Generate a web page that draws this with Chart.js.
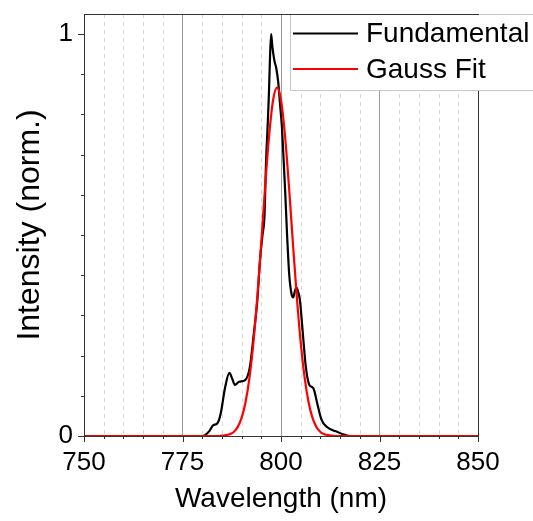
<!DOCTYPE html>
<html>
<head>
<meta charset="utf-8">
<script src="https://cdn.jsdelivr.net/npm/chart.js@4.4.1/dist/chart.umd.min.js"></script>
<style>
    html, body { margin: 0; padding: 0; background: #fff; }
</style>
</head>
<body>
<canvas id="spectrum" width="533" height="521"></canvas>
<script>
// Measured spectrum (normalized)
const fundWavelength = [750, 780, 780.7, 781.8, 782.8, 783.8, 784.7, 785.8, 786.9, 787.6, 788.3, 789.4, 790.9,
    792.1, 793.1, 794.0, 794.7, 795.3, 795.8, 796.2, 796.6, 796.95, 797.2, 797.5, 797.8, 798.3, 798.8, 799.3,
    799.8, 800.2, 800.7, 801.1, 801.5, 802.1, 802.7, 803.1, 803.5, 803.9, 804.3, 804.8, 805.5, 806.3, 807.2,
    808.2, 809.2, 810.3, 811.6, 813.0, 814.1, 815.5, 817.5, 850];
const fundIntensity = [0, 0, 0.002, 0.012, 0.027, 0.031, 0.056, 0.12, 0.157, 0.143, 0.127, 0.135, 0.139,
    0.172, 0.255, 0.338, 0.44, 0.50, 0.546, 0.68, 0.77, 0.856, 0.94, 1.0, 0.97, 0.935, 0.915, 0.88,
    0.82, 0.774, 0.68, 0.60, 0.51, 0.40, 0.352, 0.345, 0.36, 0.37, 0.36, 0.338, 0.26, 0.172, 0.127,
    0.119, 0.081, 0.04, 0.023, 0.015, 0.011, 0.005, 0, 0];

// Gauss fit curve
const fitWavelength = [750, 784, 785, 786, 787, 788, 789, 790, 791, 792, 793, 794, 795, 796, 797, 798, 799,
    800, 801, 802, 803, 804, 805, 806, 807, 808, 809, 810, 811, 812, 813, 814, 850];
const fitIntensity = [0, 0, 0.001, 0.002, 0.0045, 0.010, 0.022, 0.045, 0.084, 0.145, 0.233, 0.348, 0.483,
    0.624, 0.749, 0.836, 0.867, 0.836, 0.749, 0.624, 0.483, 0.348, 0.233, 0.145, 0.084, 0.045, 0.022,
    0.010, 0.0045, 0.002, 0.001, 0, 0];

const seriesNames = ['Fundamental', 'Gauss Fit'];
const seriesColors = ['#000000', '#ff0000'];
const xTickLabels = [750, 775, 800, 825, 850];
const yTickLabels = [0, 1];

const FONT = '"Liberation Sans", Arial, sans-serif';

function toPoints(xs, ys) {
    return xs.map((x, i) => ({ x: x, y: ys[i] }));
}

function isMajorX(v) {
    return xTickLabels.some(t => Math.abs(t - v) < 1e-6);
}
function isMajorY(v) {
    return yTickLabels.some(t => Math.abs(t - v) < 1e-6);
}

// dashed minor grid, tick marks, frame
const framePlugin = {
    id: 'frame',
    beforeDatasetsDraw(chart) {
        const { ctx, chartArea: a, scales: { x } } = chart;
        ctx.save();
        ctx.strokeStyle = '#d8d8d8';
        ctx.lineWidth = 1;
        ctx.setLineDash([4, 4]);
        x.ticks.forEach(t => {
            if (isMajorX(t.value)) return;
            const px = Math.round(x.getPixelForValue(t.value)) + 0.5;
            ctx.beginPath();
            ctx.moveTo(px, a.top);
            ctx.lineTo(px, a.bottom);
            ctx.stroke();
        });
        ctx.restore();
    },
    afterDatasetsDraw(chart) {
        const { ctx, chartArea: a, scales: { x, y } } = chart;
        ctx.save();
        ctx.strokeStyle = '#333333';
        ctx.lineWidth = 1;
        ctx.beginPath();
        x.ticks.forEach(t => {
            const px = Math.round(x.getPixelForValue(t.value)) + 0.5;
            ctx.moveTo(px, a.bottom);
            ctx.lineTo(px, a.bottom + (isMajorX(t.value) ? 6 : 3));
        });
        y.ticks.forEach(t => {
            const py = Math.round(y.getPixelForValue(t.value)) + 0.5;
            ctx.moveTo(a.left, py);
            ctx.lineTo(a.left - (isMajorY(t.value) ? 6 : 3), py);
        });
        ctx.stroke();
        ctx.strokeRect(Math.round(a.left) + 0.5, Math.round(a.top) + 0.5,
            Math.round(a.right - a.left), Math.round(a.bottom - a.top));
        ctx.restore();
    }
};

// legend box in the top right corner
const legendPlugin = {
    id: 'boxLegend',
    afterDraw(chart) {
        const { ctx, chartArea: a } = chart;
        const left = a.left + 206, top = a.top, rowH = 35.5;
        ctx.save();
        ctx.fillStyle = '#ffffff';
        ctx.fillRect(left, top, 260, 76);
        ctx.strokeStyle = '#c8c8c8';
        ctx.lineWidth = 1;
        ctx.strokeRect(left + 0.5, top + 0.5, 260, 76);
        // top frame line stays dark over the box
        ctx.strokeStyle = '#333333';
        ctx.beginPath();
        ctx.moveTo(left, Math.round(a.top) + 0.5);
        ctx.lineTo(Math.round(a.right) + 1, Math.round(a.top) + 0.5);
        ctx.stroke();
        ctx.font = '28px ' + FONT;
        ctx.textBaseline = 'middle';
        chart.data.datasets.forEach((ds, i) => {
            const yy = top + 19.5 + i * rowH;
            ctx.strokeStyle = ds.borderColor;
            ctx.lineWidth = 2;
            ctx.beginPath();
            ctx.moveTo(left + 3, yy);
            ctx.lineTo(left + 68, yy);
            ctx.stroke();
            ctx.fillStyle = '#000';
            ctx.fillText(ds.label, left + 76, yy + 1);
        });
        ctx.restore();
    }
};

new Chart(document.getElementById('spectrum'), {
    type: 'line',
    data: {
        datasets: [
            {
                label: seriesNames[0],
                data: toPoints(fundWavelength, fundIntensity),
                borderColor: seriesColors[0],
                borderWidth: 2.2,
                pointRadius: 0,
                cubicInterpolationMode: 'monotone',
                clip: 4,
                order: 1
            },
            {
                label: seriesNames[1],
                data: toPoints(fitWavelength, fitIntensity),
                borderColor: seriesColors[1],
                borderWidth: 2.2,
                pointRadius: 0,
                cubicInterpolationMode: 'monotone',
                clip: 4,
                order: 0
            }
        ]
    },
    options: {
        responsive: false,
        animation: false,
        layout: { padding: { left: 0, right: 55, top: 14, bottom: 0 } },
        plugins: { legend: { display: false }, tooltip: { enabled: false } },
        scales: {
            x: {
                type: 'linear',
                min: 750,
                max: 850,
                afterBuildTicks: axis => {
                    const ticks = [];
                    for (let v = 750; v <= 850; v += 5) ticks.push({ value: v });
                    axis.ticks = ticks;
                },
                afterFit: axis => {
                    axis.height = 85;
                    axis.paddingLeft = 0;
                    axis.paddingRight = 0;
                },
                ticks: {
                    autoSkip: false,
                    maxRotation: 0,
                    padding: 5,
                    color: '#000',
                    font: { family: FONT, size: 26 },
                    callback: v => isMajorX(v) ? String(v) : ''
                },
                grid: {
                    drawTicks: true,
                    tickLength: 6,
                    tickColor: 'rgba(0,0,0,0)',
                    lineWidth: 1,
                    color: c => (c.tick && isMajorX(c.tick.value) && c.tick.value > 750 && c.tick.value < 850)
                        ? '#9a9a9a' : 'rgba(0,0,0,0)'
                },
                border: { display: false },
                title: {
                    display: true,
                    text: 'Wavelength (nm)',
                    color: '#000',
                    font: { family: FONT, size: 28 },
                    padding: { top: 0, bottom: 5 }
                }
            },
            y: {
                min: 0,
                max: 1.05,
                afterBuildTicks: axis => {
                    const ticks = [];
                    for (let i = 0; i <= 10; i++) ticks.push({ value: i / 10 });
                    axis.ticks = ticks;
                },
                afterFit: axis => {
                    axis.width = 84;
                    axis.paddingTop = 0;
                    axis.paddingBottom = 0;
                },
                ticks: {
                    padding: 5,
                    color: '#000',
                    font: { family: FONT, size: 26 },
                    callback: v => isMajorY(v) ? String(Math.round(v)) : ''
                },
                grid: {
                    drawOnChartArea: false,
                    drawTicks: true,
                    tickLength: 6,
                    tickColor: 'rgba(0,0,0,0)'
                },
                border: { display: false },
                title: {
                    display: true,
                    text: 'Intensity (norm.)',
                    color: '#000',
                    font: { family: FONT, size: 32 },
                    padding: { top: 11, bottom: 0 }
                }
            }
        }
    },
    plugins: [framePlugin, legendPlugin]
});
</script>
</body>
</html>
